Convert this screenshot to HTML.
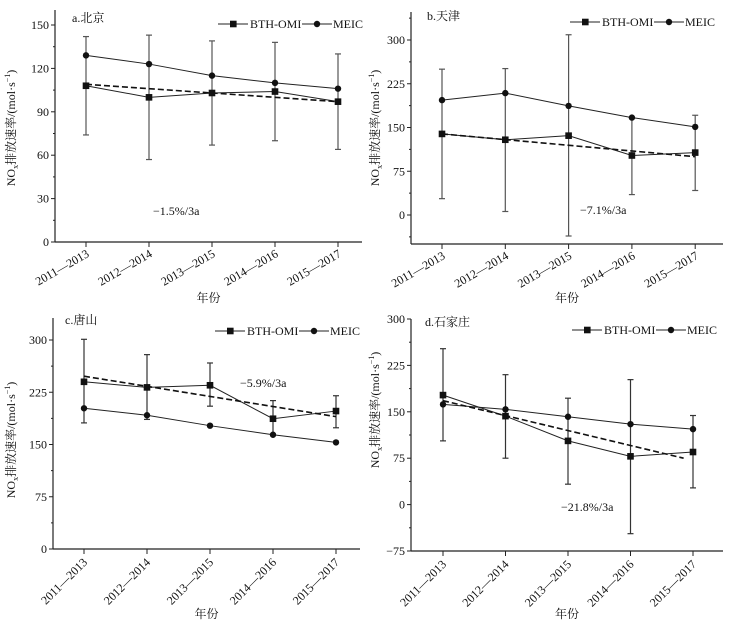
<!DOCTYPE html>
<html><head><meta charset="utf-8"><style>
body{margin:0;background:#fff}
svg text{font-family:"Liberation Serif","Noto Serif CJK SC",serif;fill:#111}
</style></head><body>
<svg id="c" width="731" height="631" xmlns="http://www.w3.org/2000/svg"></svg>
<script>
const categories=["2011—2013","2012—2014","2013—2015","2014—2016","2015—2017"];
const bjOmi=[108,100,103,104,97];
const bjLo=[74,57,67,70,64];
const bjHi=[142,143,139,138,130];
const bjMeic=[129,123,115,110,106];
const bjTrend=[109,97];
const tjOmi=[139,129,136,102,107];
const tjLo=[28,6,-36,35,42];
const tjHi=[250,251,309,167,171];
const tjMeic=[197,209,187,167,151];
const tjTrend=[139,100];
const tsOmi=[240,232,235,187,198];
const tsLo=[181,186,205,165,174];
const tsHi=[301,279,267,213,220];
const tsMeic=[202,192,177,164,153];
const tsTrend=[248,190];
const sjzOmi=[177,143,103,78,85];
const sjzLo=[103,75,33,-47,27];
const sjzHi=[252,210,172,202,144];
const sjzMeic=[162,154,142,130,122];
const sjzTrend=[168,75];
const bjTicks=[0,30,60,90,120,150];
const tjTicks=[0,75,150,225,300];
const tsTicks=[0,75,150,225,300];
const sjzTicks=[-75,0,75,150,225,300];
const rates=["−1.5%/3a","−7.1%/3a","−5.9%/3a","−21.8%/3a"];
const names=["a.北京","b.天津","c.唐山","d.石家庄"];

const svg=document.getElementById('c');
const NS="http://www.w3.org/2000/svg";
function el(t,a,p){const e=document.createElementNS(NS,t);for(const k in a)e.setAttribute(k,a[k]);(p||svg).appendChild(e);return e;}

const panels=[
 {id:'beijing',ax:55,x0:86,dx:63,right:362,yb:242,ytop:10,v0:0,p0:242,v1:150,p1:25,ticks:bjTicks,omi:bjOmi,lo:bjLo,hi:bjHi,meic:bjMeic,trend:bjTrend,trendEnd:4,rot:-30,err:'#555',lab:[72,22],rate:[153,215],leg:[218,24],xt:302,ylx:15,ylc:128},
 {id:'tianjin',ax:411,x0:442,dx:63.3,right:723,yb:244,ytop:12,v0:0,p0:215,v1:300,p1:40,ticks:tjTicks,omi:tjOmi,lo:tjLo,hi:tjHi,meic:tjMeic,trend:tjTrend,trendEnd:4,rot:-30,err:'#555',lab:[427,20],rate:[580,214],leg:[570,22],xt:302,ylx:379,ylc:128},
 {id:'tangshan',ax:53,x0:84,dx:63,right:360,yb:549,ytop:318,v0:0,p0:549,v1:300,p1:340,ticks:tsTicks,omi:tsOmi,lo:tsLo,hi:tsHi,meic:tsMeic,trend:tsTrend,trendEnd:4,rot:-45,err:'#333',lab:[65,324],rate:[240,387],leg:[215,331],xt:618,ylx:15,ylc:440},
 {id:'shijiazhuang',ax:411,x0:443,dx:62.5,right:723,yb:551,ytop:319,v0:-75,p0:551,v1:300,p1:319,ticks:sjzTicks,omi:sjzOmi,lo:sjzLo,hi:sjzHi,meic:sjzMeic,trend:sjzTrend,trendEnd:3.85,rot:-45,err:'#333',lab:[425,326],rate:[561,511],leg:[572,330],xt:618,ylx:379,ylc:410}
];

panels.forEach((P,pi)=>{
 const g=el('g',{});
 
 
 const y=v=>P.p0+(v-P.v0)*(P.p1-P.p0)/(P.v1-P.v0);
 const x=i=>P.x0+i*P.dx;
 const ya=el('line',{x1:P.ax,y1:P.ytop,x2:P.ax,y2:P.yb,stroke:'#222','stroke-width':1.2},g);
 
 const xa=el('line',{x1:P.ax,y1:P.yb,x2:P.right,y2:P.yb,stroke:'#222','stroke-width':1.2},g);
 
 const step=P.ticks[1]-P.ticks[0];
 const mins=[P.ticks[0]-step/2,...P.ticks.map(t=>t+step/2)];
 mins.forEach(m=>{const yy=y(m);if(yy>P.ytop&&yy<P.yb) el('line',{x1:P.ax-2,y1:yy,x2:P.ax,y2:yy,stroke:'#222'},g);});
 P.ticks.forEach((t,k)=>{
  el('line',{x1:P.ax-4,y1:y(t),x2:P.ax,y2:y(t),stroke:'#222'},g);
  const tx=el('text',{x:P.ax-6,y:y(t)+4,'text-anchor':'end','font-size':12},g);
  tx.textContent=(t<0?'−'+(-t):t);
  
 });
 categories.forEach((c,i)=>{
  el('line',{x1:x(i),y1:P.yb,x2:x(i),y2:P.yb+5,stroke:'#222'},g);
  const tx=el('text',{x:x(i)+4,y:P.yb+14,'text-anchor':'end','font-size':12,transform:`rotate(${P.rot} ${x(i)+4} ${P.yb+14})`},g);
  tx.textContent=c;
  
 });
 const xt=el('text',{x:(P.ax+P.right)/2,y:P.xt,'text-anchor':'middle','font-size':12},g);
 xt.textContent='年份';
 const yt=el('text',{x:P.ylx,y:P.ylc,'text-anchor':'middle','font-size':12,transform:`rotate(-90 ${P.ylx} ${P.ylc})`},g);
 yt.innerHTML='NO<tspan font-size="8" dy="3">x</tspan><tspan dy="-3">排放速率/(mol·s</tspan><tspan font-size="8" dy="-5">−1</tspan><tspan dy="5">)</tspan>';
 
 P.omi.forEach((v,i)=>{
  const e=el('g',{stroke:P.err,'stroke-width':1.2},g);
  
  el('line',{x1:x(i),y1:y(P.lo[i]),x2:x(i),y2:y(P.hi[i])},e);
  el('line',{x1:x(i)-3,y1:y(P.lo[i]),x2:x(i)+3,y2:y(P.lo[i])},e);
  el('line',{x1:x(i)-3,y1:y(P.hi[i]),x2:x(i)+3,y2:y(P.hi[i])},e);
 });
 const ml=el('polyline',{points:P.meic.map((v,i)=>x(i)+','+y(v)).join(' '),fill:'none',stroke:'#222','stroke-width':1},g);
 
 const ol=el('polyline',{points:P.omi.map((v,i)=>x(i)+','+y(v)).join(' '),fill:'none',stroke:'#222','stroke-width':1},g);
 
 const tl=el('line',{x1:x(0),y1:y(P.trend[0]),x2:x(P.trendEnd),y2:y(P.trend[1]),stroke:'#111','stroke-width':1.6,'stroke-dasharray':'6,3'},g);
 
 P.meic.forEach((v,i)=>{
  const c=el('circle',{cx:x(i),cy:y(v),r:3.2,fill:'#111'},g);
  
 });
 P.omi.forEach((v,i)=>{
  const r=el('rect',{x:x(i)-3.3,y:y(v)-3.3,width:6.6,height:6.6,fill:'#111'},g);
  
 });
 const lb=el('text',{x:P.lab[0],y:P.lab[1],'font-size':12},g);
 lb.textContent=names[pi];
 const rt=el('text',{x:P.rate[0],y:P.rate[1],'font-size':12},g);
 rt.textContent=rates[pi];
 const L=el('g',{},g);
 
 const [lx,ly]=P.leg;
 el('line',{x1:lx,y1:ly,x2:lx+30,y2:ly,stroke:'#222'},L);
 el('rect',{x:lx+12,y:ly-3.3,width:6.6,height:6.6,fill:'#111'},L);
 const t1=el('text',{x:lx+32,y:ly+4,'font-size':12},L);t1.textContent='BTH-OMI';
 
 el('line',{x1:lx+84,y1:ly,x2:lx+114,y2:ly,stroke:'#222'},L);
 el('circle',{cx:lx+99,cy:ly,r:3.2,fill:'#111'},L);
 const t2=el('text',{x:lx+115,y:ly+4,'font-size':12},L);t2.textContent='MEIC';
 
});
</script>
</body></html>
